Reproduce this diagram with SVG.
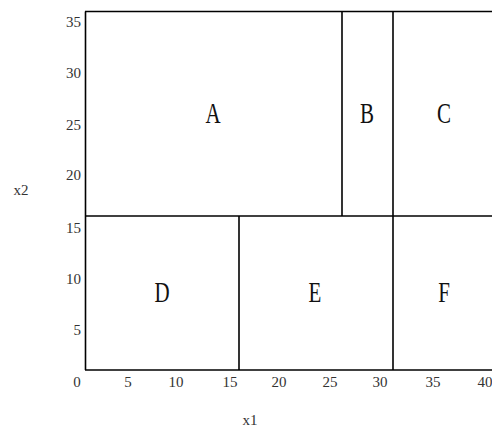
<svg xmlns="http://www.w3.org/2000/svg" width="492" height="428" viewBox="0 0 492 428">
<style>
.ln{stroke:#000;stroke-width:1.6;fill:none}
.tk{font-family:"Liberation Serif",serif;font-size:15px;fill:#333}
.lb{font-family:"Liberation Serif",serif;font-size:30px;fill:#111;text-anchor:middle}
</style>
<rect width="492" height="428" fill="#fff"/>
<g id="connectors">
<line class="ln" x1="85.5" y1="11.5" x2="85.5" y2="370"/>
<line class="ln" x1="85" y1="370" x2="492" y2="370"/>
<line class="ln" x1="85" y1="11.5" x2="492" y2="11.5"/>
<line class="ln" x1="85" y1="216" x2="492" y2="216"/>
<line class="ln" x1="342" y1="11.5" x2="342" y2="216"/>
<line class="ln" x1="393" y1="11.5" x2="393" y2="370"/>
<line class="ln" x1="239" y1="216" x2="239" y2="370"/>
</g>
<g id="yticks" class="tk" text-anchor="end">
<text x="81" y="27">35</text>
<text x="81" y="78">30</text>
<text x="81" y="130">25</text>
<text x="81" y="180">20</text>
<text x="81" y="233">15</text>
<text x="81" y="284">10</text>
<text x="81" y="335">5</text>
</g>
<g id="xticks" class="tk" text-anchor="middle">
<text x="77" y="387">0</text>
<text x="128" y="387">5</text>
<text x="176" y="387">10</text>
<text x="230" y="387">15</text>
<text x="279" y="387">20</text>
<text x="330" y="387">25</text>
<text x="380" y="387">30</text>
<text x="433" y="387">35</text>
<text x="485" y="387">40</text>
</g>
<text class="tk" x="250" y="425" text-anchor="middle">x1</text>
<text class="tk" x="21" y="195" text-anchor="middle">x2</text>
<g id="A" transform="translate(213,123) scale(0.7,1)"><text class="lb">A</text></g>
<g id="B" transform="translate(367,123) scale(0.7,1)"><text class="lb">B</text></g>
<g id="C" transform="translate(444,123) scale(0.7,1)"><text class="lb">C</text></g>
<g id="D" transform="translate(162,302) scale(0.7,1)"><text class="lb">D</text></g>
<g id="E" transform="translate(315,302) scale(0.7,1)"><text class="lb">E</text></g>
<g id="F" transform="translate(444,302) scale(0.7,1)"><text class="lb">F</text></g>
</svg>
